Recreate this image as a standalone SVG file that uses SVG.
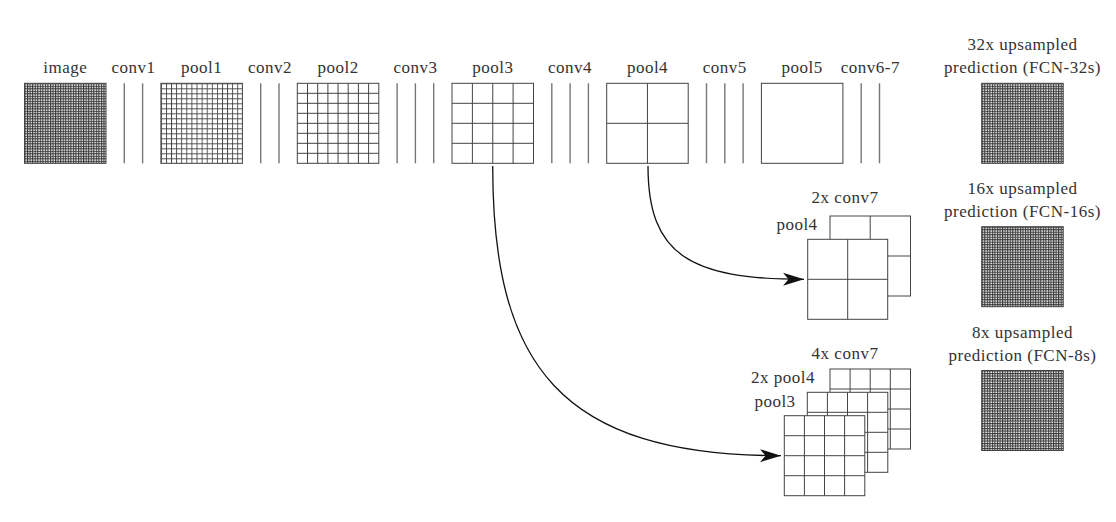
<svg xmlns="http://www.w3.org/2000/svg" width="1116" height="522" viewBox="0 0 1116 522">
  <style>
    text { font-family: "Liberation Serif", "Times New Roman", serif; font-size: 17px; fill: #333; text-anchor: middle; letter-spacing: 0.5px; }
    .box { fill: #fff; stroke: #444; stroke-width: 1; }
    .grid { fill: none; stroke: #444; stroke-width: 1; }
    .conv { stroke: #777; stroke-width: 1.4; }
    .edge { fill: none; stroke: #111; stroke-width: 1.3; }
  </style>
  <defs>
    <!-- dense 32x32 cell fill -->
    <pattern id="fine32" patternUnits="objectBoundingBox" width="0.03125" height="0.03125">
      <rect width="2.6" height="2.6" fill="#fff"/>
      <rect width="2.6" height="1.1" fill="#3a3a3a"/>
      <rect width="1.1" height="2.6" fill="#3a3a3a"/>
    </pattern>
    <!-- 16x16 cell fill -->
    <pattern id="fine16" patternUnits="objectBoundingBox" width="0.0625" height="0.0625">
      <rect width="5.2" height="5.2" fill="#fff"/>
      <rect width="5.2" height="0.9" fill="#444"/>
      <rect width="0.9" height="5.2" fill="#444"/>
    </pattern>
    <!-- stealth-style arrowhead -->
    <marker id="stealth" markerUnits="userSpaceOnUse" markerWidth="24" markerHeight="16" refX="22" refY="7.5" orient="auto">
      <path d="M22,7.5 L1,1 L6.5,7.5 L1,14 Z" fill="#111"/>
    </marker>
  </defs>

  <!-- forward path -->
  <g id="image">
    <text x="65.3" y="72.5">image</text>
    <rect x="24.5" y="83.3" width="81.5" height="80" fill="url(#fine32)" stroke="#444"/>
  </g>
  <g id="conv1">
    <text x="133.5" y="72.5">conv1</text>
    <path class="conv" d="M124.3,83.3V163.3M142.6,83.3V163.3"/>
  </g>
  <g id="pool1">
    <text x="201.7" y="72.5">pool1</text>
    <rect x="160.9" y="83.3" width="81.5" height="80" fill="url(#fine16)" stroke="#444"/>
  </g>
  <g id="conv2">
    <text x="269.9" y="72.5">conv2</text>
    <path class="conv" d="M260.7,83.3V163.3M279,83.3V163.3"/>
  </g>
  <g id="pool2">
    <text x="338.1" y="72.5">pool2</text>
    <rect class="box" x="297.3" y="83.3" width="81.5" height="80"/>
    <path class="grid" d="M307.5,83.3V163.3M317.7,83.3V163.3M327.9,83.3V163.3M338.05,83.3V163.3M348.2,83.3V163.3M358.4,83.3V163.3M368.6,83.3V163.3
      M297.3,93.3H378.8M297.3,103.3H378.8M297.3,113.3H378.8M297.3,123.3H378.8M297.3,133.3H378.8M297.3,143.3H378.8M297.3,153.3H378.8"/>
  </g>
  <g id="conv3">
    <text x="415.4" y="72.5">conv3</text>
    <path class="conv" d="M397.1,83.3V163.3M415.4,83.3V163.3M433.7,83.3V163.3"/>
  </g>
  <g id="pool3">
    <text x="492.8" y="72.5">pool3</text>
    <rect class="box" x="452" y="83.3" width="81.5" height="80"/>
    <path class="grid" d="M472.4,83.3V163.3M492.75,83.3V163.3M513.1,83.3V163.3M452,103.3H533.5M452,123.3H533.5M452,143.3H533.5"/>
  </g>
  <g id="conv4">
    <text x="570.1" y="72.5">conv4</text>
    <path class="conv" d="M551.8,83.3V163.3M570.1,83.3V163.3M588.4,83.3V163.3"/>
  </g>
  <g id="pool4">
    <text x="647.5" y="72.5">pool4</text>
    <rect class="box" x="606.7" y="83.3" width="81.5" height="80"/>
    <path class="grid" d="M647.45,83.3V163.3M606.7,123.3H688.2"/>
  </g>
  <g id="conv5">
    <text x="724.8" y="72.5">conv5</text>
    <path class="conv" d="M706.5,83.3V163.3M724.8,83.3V163.3M743.1,83.3V163.3"/>
  </g>
  <g id="pool5">
    <text x="802.2" y="72.5">pool5</text>
    <rect class="box" x="761.4" y="83.3" width="81.5" height="80"/>
  </g>
  <g id="conv6-7">
    <text x="870.4" y="72.5">conv6-7</text>
    <path class="conv" d="M861.2,83.3V163.3M879.5,83.3V163.3"/>
  </g>

  <!-- predictions -->
  <g id="fcn32s">
    <text x="1022.5" y="50">32x upsampled</text>
    <text x="1022.5" y="72.5">prediction (FCN-32s)</text>
    <rect x="981.7" y="83.3" width="81.5" height="80" fill="url(#fine32)" stroke="#444"/>
  </g>
  <g id="fcn16s">
    <text x="1022.5" y="194">16x upsampled</text>
    <text x="1022.5" y="216.5">prediction (FCN-16s)</text>
    <rect x="981.7" y="226.7" width="81.5" height="80" fill="url(#fine32)" stroke="#444"/>
  </g>
  <g id="fcn8s">
    <text x="1022.5" y="338">8x upsampled</text>
    <text x="1022.5" y="360.5">prediction (FCN-8s)</text>
    <rect x="981.7" y="370.5" width="81.5" height="80" fill="url(#fine32)" stroke="#444"/>
  </g>

  <!-- 2x2 fusion stack -->
  <g id="stack16">
    <text x="845" y="203">2x conv7</text>
    <rect class="box" x="830" y="216" width="80.5" height="80"/>
    <path class="grid" d="M870.2,216V296M830,256H910.5"/>
    <text x="797" y="230">pool4</text>
    <rect class="box" x="807.7" y="239.3" width="80" height="80"/>
    <path class="grid" d="M847.7,239.3V319.3M807.7,279.3H887.7"/>
  </g>

  <!-- 4x4 fusion stack -->
  <g id="stack8">
    <text x="845" y="359">4x conv7</text>
    <rect class="box" x="830" y="369" width="80.5" height="80"/>
    <path class="grid" d="M850.1,369V449M870.2,369V449M890.3,369V449M830,389H910.5M830,409H910.5M830,429H910.5"/>
    <text x="783" y="383">2x pool4</text>
    <rect class="box" x="807.3" y="392.3" width="80.5" height="80"/>
    <path class="grid" d="M827.4,392.3V472.3M847.5,392.3V472.3M867.6,392.3V472.3M807.3,412.3H887.8M807.3,432.3H887.8M807.3,452.3H887.8"/>
    <text x="775" y="407">pool3</text>
    <rect class="box" x="784.3" y="415.7" width="80.5" height="80"/>
    <path class="grid" d="M804.4,415.7V495.7M824.5,415.7V495.7M844.6,415.7V495.7M784.3,435.7H864.8M784.3,455.7H864.8M784.3,475.7H864.8"/>
  </g>

  <!-- skip connections -->
  <g id="connectors">
    <path class="edge" d="M648,166 C648,255 690,279.3 804,279.3" marker-end="url(#stealth)"/>
    <path class="edge" d="M492.7,166 C492.7,365 560,455.7 781,455.7" marker-end="url(#stealth)"/>
  </g>
</svg>
